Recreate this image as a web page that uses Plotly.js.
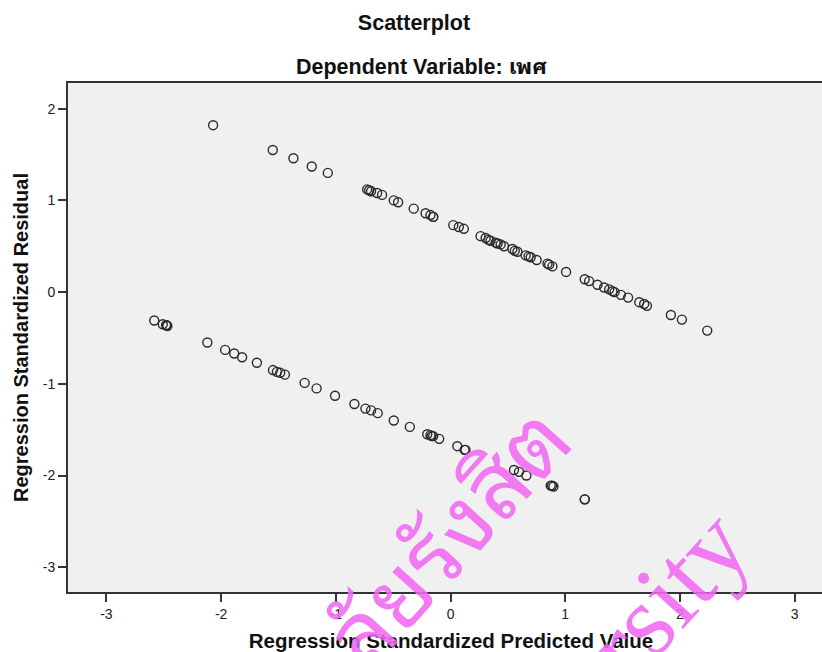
<!DOCTYPE html>
<html>
<head>
<meta charset="utf-8">
<script src="https://cdn.plot.ly/plotly-3.0.1.min.js"></script>
<style>
  html, body { margin: 0; padding: 0; overflow: hidden; background: #ffffff; }
  #chart { width: 834px; height: 652px; }
</style>
</head>
<body>
<div id="chart"></div>
<script>
// Regression standardized predicted values / residuals
const predictedUpper = [-2.07, -1.55, -1.37, -1.21, -1.07, -0.727, -0.71, -0.693, -0.640, -0.597,
  -0.495, -0.457, -0.321, -0.218, -0.175, -0.151, -0.151, 0.024, 0.072, 0.116,
  0.262, 0.306, 0.33, 0.349, 0.393, 0.41, 0.437, 0.466, 0.539, 0.56, 0.583,
  0.655, 0.68, 0.699, 0.751, 0.845, 0.86, 0.888, 1.007, 1.170, 1.208, 1.281,
  1.339, 1.383, 1.412, 1.43, 1.485, 1.548, 1.645, 1.688, 1.712, 1.921, 2.017, 2.238];
const residualUpper = [1.82, 1.55, 1.46, 1.37, 1.30, 1.12, 1.11, 1.10, 1.08, 1.06,
  1.00, 0.98, 0.91, 0.86, 0.84, 0.82, 0.82, 0.73, 0.71, 0.69,
  0.61, 0.59, 0.57, 0.56, 0.54, 0.53, 0.52, 0.50, 0.47, 0.45, 0.44,
  0.40, 0.39, 0.38, 0.35, 0.31, 0.30, 0.28, 0.22, 0.14, 0.12, 0.08,
  0.05, 0.03, 0.01, 0.00, -0.03, -0.06, -0.11, -0.13, -0.15, -0.25, -0.30, -0.42];

const predictedLower = [-2.583, -2.509, -2.480, -2.475, -2.469, -2.120, -1.965, -1.886, -1.817, -1.688,
  -1.548, -1.514, -1.485, -1.444, -1.272, -1.168, -1.007, -0.838, -0.742, -0.693,
  -0.635, -0.495, -0.355, -0.203, -0.175, -0.165, -0.151, -0.099, 0.059, 0.122, 0.13,
  0.553, 0.597, 0.661, 0.873, 0.885, 0.897, 1.170, 1.170];
const residualLower = [-0.31, -0.35, -0.36, -0.36, -0.37, -0.55, -0.63, -0.67, -0.71, -0.77,
  -0.85, -0.87, -0.88, -0.90, -0.99, -1.05, -1.13, -1.22, -1.27, -1.29,
  -1.32, -1.40, -1.47, -1.55, -1.56, -1.57, -1.57, -1.60, -1.68, -1.72, -1.72,
  -1.94, -1.96, -2.00, -2.11, -2.11, -2.12, -2.26, -2.26];

const xTicks = [-3, -2, -1, 0, 1, 2, 3];
const yTicks = [-3, -2, -1, 0, 1, 2];

const chartTitle = 'Scatterplot';
const chartSubtitle = 'Dependent Variable: เพศ';
const xTitle = 'Regression Standardized Predicted Value';
const yTitle = 'Regression Standardized Residual';
const watermarkThai = 'ลัยรังสิต';
const watermarkLatin = 'rsity';

const loopedThai = '"Noto Sans Thai Looped", "Noto Serif Thai", Loma, Garuda, Norasi, Kinnari, Sawasdee, "Tlwg Typo", "Noto Sans Thai"';
const baseFont = 'Arial, "Liberation Sans", ' + loopedThai + ', sans-serif';
const thaiFont = loopedThai + ', sans-serif';
const pink = 'rgba(240,104,240,0.88)';

const trace = {
  type: 'scatter',
  mode: 'markers',
  x: predictedUpper.concat(predictedLower),
  y: residualUpper.concat(residualLower),
  marker: {
    symbol: 'circle-open',
    size: 9,
    color: '#2a2a2a',
    line: { width: 1.4, color: '#2a2a2a' }
  },
  hoverinfo: 'x+y',
  showlegend: false
};

const axisCommon = {
  showgrid: false,
  zeroline: false,
  showline: true,
  mirror: true,
  linecolor: '#333333',
  linewidth: 1.8,
  ticks: 'outside',
  ticklen: 8,
  tickwidth: 1.5,
  tickcolor: '#333333',
  tickfont: { family: baseFont, size: 14, color: '#222222' },
  automargin: false
};

const layout = {
  width: 834,
  height: 652,
  margin: { l: 68, r: 0, t: 83, b: 60 },
  paper_bgcolor: '#ffffff',
  plot_bgcolor: '#f0f0f0',
  font: { family: baseFont, color: '#111111' },
  title: {
    text: '<b>' + chartTitle + '</b>',
    font: { family: baseFont, size: 21.5, color: '#111111' },
    x: 0.4964, xref: 'container', xanchor: 'center',
    y: 0.965, yref: 'container', yanchor: 'middle'
  },
  xaxis: Object.assign({}, axisCommon, {
    range: [-3.335, 3.343],
    tickvals: xTicks,
    ticktext: xTicks.map(String),
    title: { text: '<b>' + xTitle + '</b>', font: { family: baseFont, size: 20.5, color: '#111111' }, standoff: 15 }
  }),
  yaxis: Object.assign({}, axisCommon, {
    range: [-3.27, 2.28],
    tickvals: yTicks,
    ticktext: yTicks.map(String),
    title: { text: '<b>' + yTitle + '</b>', font: { family: baseFont, size: 20, color: '#111111' }, standoff: 9 }
  }),
  annotations: [
    {
      text: '<b>' + chartSubtitle + '</b>',
      xref: 'paper', yref: 'paper', x: 0.462, y: 1.032,
      xanchor: 'center', yanchor: 'middle', showarrow: false,
      font: { family: baseFont, size: 21.5, color: '#111111' }
    },
    {
      text: watermarkThai,
      xref: 'paper', yref: 'paper', x: 0.488, y: 0.118,
      xanchor: 'center', yanchor: 'middle', showarrow: false,
      textangle: -48,
      font: { family: thaiFont, size: 92, color: pink }
    },
    {
      text: watermarkLatin,
      xref: 'paper', yref: 'paper', x: 0.781, y: -0.004,
      xanchor: 'center', yanchor: 'middle', showarrow: false,
      textangle: -48,
      font: { family: '"Liberation Serif", "Times New Roman", serif', size: 104, color: pink }
    }
  ]
};

Plotly.newPlot('chart', [trace], layout, { displayModeBar: false, staticPlot: false });
</script>
</body>
</html>
